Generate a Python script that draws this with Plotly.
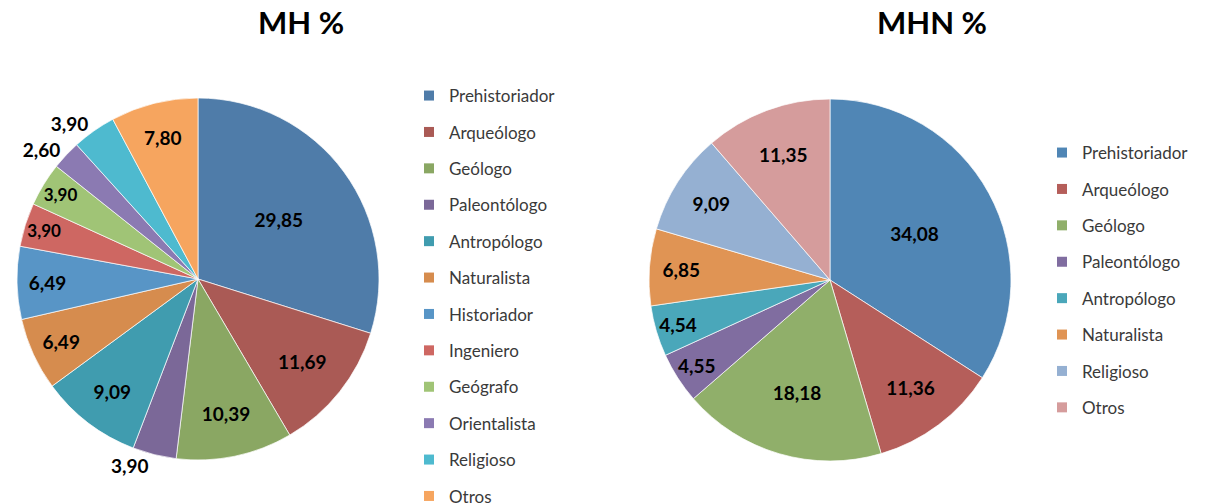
import plotly.graph_objects as go

# ---- data ----
mh_labels = ["Prehistoriador", "Arqueólogo", "Geólogo", "Paleontólogo", "Antropólogo",
             "Naturalista", "Historiador", "Ingeniero", "Geógrafo", "Orientalista",
             "Religioso", "Otros"]
mh_values = [29.85, 11.69, 10.39, 3.90, 9.09, 6.49, 6.49, 3.90, 3.90, 2.60, 3.90, 7.80]
mh_colors = ["#4F7CA9", "#AA5A55", "#8AA763", "#7B6898", "#409CAF", "#D68C4E",
             "#5895C6", "#CE6762", "#A0C476", "#8B7AB2", "#4EBACF", "#F6A55F"]
mh_textpos = ["inside", "inside", "inside", "outside", "inside", "inside",
              "inside", "inside", "inside", "outside", "outside", "inside"]

mhn_labels = ["Prehistoriador", "Arqueólogo", "Geólogo", "Paleontólogo", "Antropólogo",
              "Naturalista", "Religioso", "Otros"]
mhn_values = [34.08, 11.36, 18.18, 4.55, 4.54, 6.85, 9.09, 11.35]
mhn_colors = ["#5086B5", "#B55E5A", "#90AF6A", "#806DA0", "#4AA7BA", "#E09454",
              "#95B0D2", "#D59C9C"]

FONT = "Lato"
# figure is taller than the 504px window so the long legend is not squeezed;
# body margin removed and overflow hidden via post_script
W, H = 1222, 540

fig = go.Figure()

def px_x(a, b):
    return [a / W, b / W]

def px_y(top, bottom):
    return [1 - bottom / H, 1 - top / H]

label_font = dict(family=FONT, size=19, color="black", weight="bold")

fig.add_trace(go.Pie(
    labels=mh_labels, values=mh_values, sort=False, direction="clockwise", rotation=0,
    marker=dict(colors=mh_colors, line=dict(color="white", width=0.7)),
    texttemplate="%{value:.2f}", textposition=mh_textpos,
    insidetextorientation="horizontal",
    textfont=label_font,
    domain=dict(x=px_x(17, 379), y=px_y(98, 460)),
    showlegend=False, name="MH %",
))
fig.add_trace(go.Pie(
    labels=mhn_labels, values=mhn_values, sort=False, direction="clockwise", rotation=0,
    marker=dict(colors=mhn_colors, line=dict(color="white", width=0.7)),
    texttemplate="%{value:.2f}", textposition="inside",
    insidetextorientation="horizontal",
    textfont=label_font,
    domain=dict(x=px_x(649, 1011), y=px_y(99, 461)),
    showlegend=False, name="MHN %",
))

# legend entries
for lab, col in zip(mh_labels, mh_colors):
    fig.add_trace(go.Scatter(x=[None], y=[None], mode="markers", name=lab,
                             marker=dict(symbol="square", size=10, color=col),
                             legend="legend", legendgroup="a" + lab, showlegend=True))
for lab, col in zip(mhn_labels, mhn_colors):
    fig.add_trace(go.Scatter(x=[None], y=[None], mode="markers", name=lab,
                             marker=dict(symbol="square", size=10, color=col),
                             legend="legend2", legendgroup="b" + lab, showlegend=True))

legend_common = dict(font=dict(family=FONT, size=17, color="#3a3a3a"),
                     bgcolor="rgba(0,0,0,0)", tracegroupgap=11.3, traceorder="grouped",
                     xanchor="left", yanchor="top", itemclick=False, itemdoubleclick=False)

fig.update_layout(
    width=W, height=H,
    margin=dict(l=0, r=0, t=0, b=0),
    paper_bgcolor="white", plot_bgcolor="white",
    separators=",.",
    xaxis=dict(visible=False), yaxis=dict(visible=False),
    legend=dict(x=409 / W, y=1 - 78 / H, **legend_common),
    legend2=dict(x=1042 / W, y=1 - 135 / H, **legend_common),
    annotations=[
        dict(text="<b>MH %</b>", x=301 / W, y=1 - 22 / H, xref="paper", yref="paper",
             showarrow=False, font=dict(family=FONT, size=31, color="black"),
             xanchor="center", yanchor="middle"),
        dict(text="<b>MHN %</b>", x=932 / W, y=1 - 22 / H, xref="paper", yref="paper",
             showarrow=False, font=dict(family=FONT, size=31, color="black"),
             xanchor="center", yanchor="middle"),
    ],
)

fig.write_html(
    "out.html",
    config={"displayModeBar": False},
    post_script="document.body.style.margin='0';document.body.style.overflow='hidden';",
)
